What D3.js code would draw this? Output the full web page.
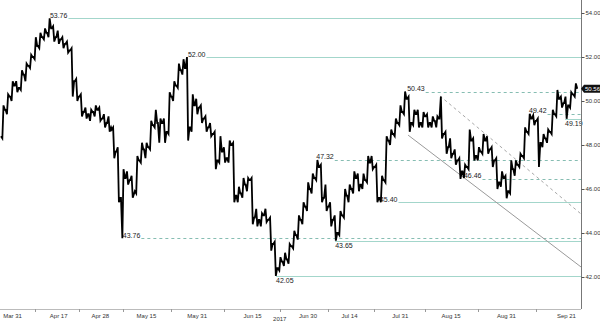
<!DOCTYPE html>
<head>
  <meta charset="utf-8">
  <script src="https://d3js.org/d3.v7.min.js"></script>
  <style>
    body { margin: 0; background: #fff; }
    svg { display: block; font-family: "Liberation Sans", Arial, sans-serif; }
  </style>
</head>
<body>
<svg width="600" height="323"></svg>

<script type="text/javascript">

// daily bars, [open, high, low, close]
var bars = [
  [48.4,49.8,48.3,49.6], [49.6,50.3,49.4,50.2], [50.2,50.9,50.0,50.7], [50.7,50.9,50.4,50.6], [50.6,51.4,50.5,51.2],
  [51.2,51.7,50.9,51.6], [51.6,52.1,51.5,52.0], [52.0,52.9,51.9,52.5], [52.5,53.1,52.4,52.9], [52.9,53.3,52.8,53.1],
  [53.1,53.76,52.9,53.3], [53.3,53.4,52.7,52.9], [52.9,53.2,52.6,52.8], [52.8,52.9,52.4,52.6], [52.6,52.7,52.2,52.3],
  [52.3,52.4,50.2,50.9], [50.9,51.0,50.0,50.2], [50.2,50.3,49.3,49.5], [49.5,49.7,49.2,49.4], [49.4,49.6,49.1,49.5],
  [49.5,49.8,49.3,49.6], [49.6,49.7,49.1,49.2], [49.2,49.4,48.8,49.0], [49.0,49.3,48.6,48.8], [48.7,48.8,47.4,47.7],
  [47.7,47.9,45.4,45.6], [45.6,46.9,43.76,46.5], [46.5,46.8,46.2,46.4], [46.4,46.6,45.6,45.8], [45.9,47.5,45.8,47.3],
  [47.3,48.1,47.2,47.8], [47.8,48.1,47.4,47.9], [47.9,49.1,47.8,48.9], [48.9,49.6,48.8,49.0], [49.0,49.2,48.1,49.0],
  [49.0,49.2,48.1,48.6], [48.6,50.4,48.5,50.2], [50.2,50.9,50.0,50.7], [50.7,51.7,50.6,51.4], [51.4,51.9,51.2,51.5],
  [51.5,52.0,48.2,48.8], [48.8,50.3,48.6,49.8], [49.8,50.1,49.4,49.7], [49.7,49.8,49.0,49.2], [49.2,49.3,48.6,48.8],
  [48.8,49.0,48.4,48.5], [48.5,48.6,46.9,47.3], [47.3,48.4,47.2,47.7], [47.7,47.9,47.2,47.4], [47.4,48.2,47.2,48.0],
  [48.0,48.1,45.4,45.7], [45.7,46.1,45.4,45.8], [45.8,46.5,45.6,46.2], [46.2,46.5,45.9,46.4], [46.4,46.5,44.4,44.7],
  [44.7,45.1,44.3,44.6], [44.6,44.9,44.3,44.8], [44.8,45.1,44.5,44.6], [44.6,44.7,43.2,43.5], [43.5,43.6,42.05,42.4],
  [42.4,42.9,42.3,42.7], [42.7,43.1,42.5,42.8], [42.8,43.5,42.6,43.4], [43.4,44.1,43.3,43.9], [43.9,44.8,43.7,44.6],
  [44.6,45.4,44.4,45.2], [45.2,46.3,45.0,46.0], [46.0,46.7,45.8,46.5], [46.5,47.32,46.4,47.0], [47.0,47.1,45.4,45.6],
  [45.6,46.2,45.0,45.2], [45.2,45.4,44.3,44.6], [44.6,44.8,43.65,44.0], [44.0,45.0,43.9,44.8], [44.8,46.0,44.7,45.7],
  [45.7,46.2,45.4,46.0], [46.0,46.8,45.8,46.5], [46.5,46.7,45.9,46.2], [46.2,46.7,46.0,46.4], [46.4,47.5,46.3,47.2],
  [47.2,47.5,46.9,47.0], [47.0,47.1,45.4,45.6], [45.6,46.6,45.4,46.4], [46.4,48.4,46.3,48.2], [48.2,48.7,48.0,48.5],
  [48.5,49.2,48.4,49.0], [49.0,49.8,48.9,49.5], [49.5,50.43,49.4,50.1], [50.1,50.2,48.6,49.0], [49.0,49.6,48.9,49.4],
  [49.4,49.6,48.8,49.0], [49.0,49.5,48.8,49.3], [49.3,49.4,48.8,49.0], [49.0,49.3,48.8,49.1], [49.1,49.3,48.8,49.2],
  [49.2,50.2,48.3,48.5], [48.5,48.6,47.6,47.9], [47.9,48.3,47.4,47.6], [47.6,47.8,47.1,47.3], [47.3,47.4,46.46,46.8],
  [46.8,47.1,46.5,47.0], [47.0,48.7,46.9,48.2], [48.2,48.3,47.3,47.5], [47.5,47.9,47.3,47.7], [47.7,48.5,47.6,48.2],
  [48.2,48.4,47.6,47.8], [47.8,47.9,47.0,47.3], [47.3,47.4,46.0,46.3], [46.3,46.8,46.1,46.5], [46.5,46.6,45.58,45.9],
  [45.9,47.3,45.8,46.9], [46.9,47.3,46.6,47.1], [47.1,47.6,47.0,47.5], [47.5,48.8,47.4,48.6], [48.6,49.42,48.5,49.2],
  [49.2,49.35,48.9,49.1], [49.1,49.2,47.0,48.1], [48.1,48.5,47.9,48.3], [48.3,48.7,48.1,48.6], [48.6,49.6,48.5,49.4],
  [49.4,50.5,49.3,50.1], [50.1,50.2,49.7,49.9], [49.9,50.2,49.19,49.8], [49.8,50.4,49.7,50.3], [50.3,50.8,50.2,50.56]
];

var tickDays   = [2, 12, 21, 31, 42, 54, 66, 75, 86, 97, 109, 122];
var tickLabels = ["Mar 31", "Apr 17", "Apr 28", "May 15", "May 31", "Jun 15", "Jun 30", "Jul 14", "Jul 31", "Aug 15", "Aug 31", "Sep 21"];
var yearLabel = "2017";
var yearDay = 60.5;
var yTicks = [42, 44, 46, 48, 50, 52, 54];

// support / resistance levels and the day where each one is marked
var levelValues = [53.76, 52.00, 50.43, 49.42, 47.32, 46.46, 45.40, 43.76, 43.65, 42.05, 49.19];
var levelDays   = [10.7, 40.6, 88.1, 114.5, 68.4, 100.4, 82.2, 26.5, 72.5, 59.7, 122.3];
var dashedLevels = [50.43, 49.42, 47.32, 46.46, 43.76];
var belowLevels  = [43.65, 42.05, 49.19];

// channel lines: [day, price] end points
var trendSolid  = [[88.3, 48.45], [125.8, 42.45]];
var trendDashed = [[95.2, 50.23], [125.8, 44.86]];

var svg = d3.select("svg");
var x = d3.scaleLinear().domain([0, bars.length]).range([0.5, 577.5]);
var y = d3.scaleLinear().domain([42, 54]).range([277, 13]);
var axisX = 581, axisY = 309;
var teal = "#a3d6cb";

// level lines + labels
var gLevels = svg.append("g");
var gLabels = svg.append("g");
levelValues.forEach(function(v, i) {
  var lx = x(levelDays[i]);
  var below = belowLevels.indexOf(v) >= 0;
  var dashed = dashedLevels.indexOf(v) >= 0;
  var t = gLabels.append("text")
    .attr("x", lx)
    .attr("y", below ? y(v) + 7.5 : y(v) - 0.5)
    .style("font-size", "7px")
    .style("fill", "#1a1a1a")
    .text(v.toFixed(2));
  var w = t.node().getComputedTextLength();
  gLevels.append("line")
    .attr("x1", below ? lx : lx + w + 1)
    .attr("x2", axisX)
    .attr("y1", Math.round(y(v)) + 0.5)
    .attr("y2", Math.round(y(v)) + 0.5)
    .attr("stroke", dashed ? "#86bdb2" : teal)
    .attr("stroke-width", 1)
    .attr("stroke-dasharray", dashed ? "3,3" : null);
});

// channel lines
var line = d3.line().x(function(d) { return x(d[0]); }).y(function(d) { return y(d[1]); });
svg.append("path").attr("d", line(trendSolid))
  .attr("fill", "none").attr("stroke", "#9a9a9a").attr("stroke-width", 1);
svg.append("path").attr("d", line(trendDashed))
  .attr("fill", "none").attr("stroke", "#a8a8a8").attr("stroke-width", 1).attr("stroke-dasharray", "3,3");

// price trace: open -> low/high -> high/low -> close inside each day slot
var pts = [];
bars.forEach(function(b, i) {
  var up = b[3] >= b[0];
  pts.push([i + 0.1, b[0]]);
  pts.push([i + 0.4, up ? b[2] : b[1]]);
  pts.push([i + 0.65, up ? b[1] : b[2]]);
  pts.push([i + 0.95, b[3]]);
});
svg.append("path").attr("d", line(pts))
  .attr("fill", "none").attr("stroke", "#000").attr("stroke-width", 1.8)
  .attr("stroke-linejoin", "miter");

// right axis
svg.append("line").attr("x1", axisX + 0.5).attr("x2", axisX + 0.5).attr("y1", 0).attr("y2", axisY)
  .attr("stroke", "#777");
var gy = svg.append("g").attr("transform", "translate(" + (axisX + 0.5) + ",0)")
  .call(d3.axisRight(y).tickValues(yTicks).tickFormat(d3.format(".2f")).tickSize(3).tickPadding(1));
gy.select(".domain").remove();
gy.selectAll(".tick line").attr("stroke", "#555");
gy.selectAll(".tick text").style("font-size", "6px").attr("fill", "#333").style("font-family", "Liberation Sans, Arial, sans-serif");

// last price tag
var last = bars[bars.length - 1][3];
var tag = svg.append("g").attr("transform", "translate(0," + y(last) + ")");
tag.append("path").attr("d", "M581,0 L584,-4 L600,-4 L600,4 L584,4 Z").attr("fill", "#111");
tag.append("text").attr("x", 585).attr("y", 2.2).text(last.toFixed(2))
  .style("font-size", "6px").attr("fill", "#fff");

// bottom axis
svg.append("line").attr("x1", 0).attr("x2", axisX).attr("y1", axisY + 0.5).attr("y2", axisY + 0.5)
  .attr("stroke", "#bbb");
var tickX = tickDays.map(function(d) { return d + 0.5; });
var gx = svg.append("g").attr("transform", "translate(0," + axisY + ")")
  .call(d3.axisBottom(x).tickValues(tickX).tickFormat(function(d, i) { return tickLabels[i]; })
    .tickSize(0).tickPadding(5));
gx.select(".domain").remove();
gx.selectAll(".tick text").style("font-size", "6px").attr("fill", "#333").style("font-family", "Liberation Sans, Arial, sans-serif");

svg.selectAll(".minor").data(d3.pairs(tickX)).enter().append("line")
  .attr("x1", function(d) { return Math.round(x((d[0] + d[1]) / 2)) + 0.5; })
  .attr("x2", function(d) { return Math.round(x((d[0] + d[1]) / 2)) + 0.5; })
  .attr("y1", axisY).attr("y2", axisY + 3)
  .attr("stroke", "#999");

svg.append("text").attr("x", x(yearDay)).attr("y", 321).attr("text-anchor", "middle")
  .style("font-size", "6px").attr("fill", "#333").text(yearLabel);

</script>
</body>
</html>
